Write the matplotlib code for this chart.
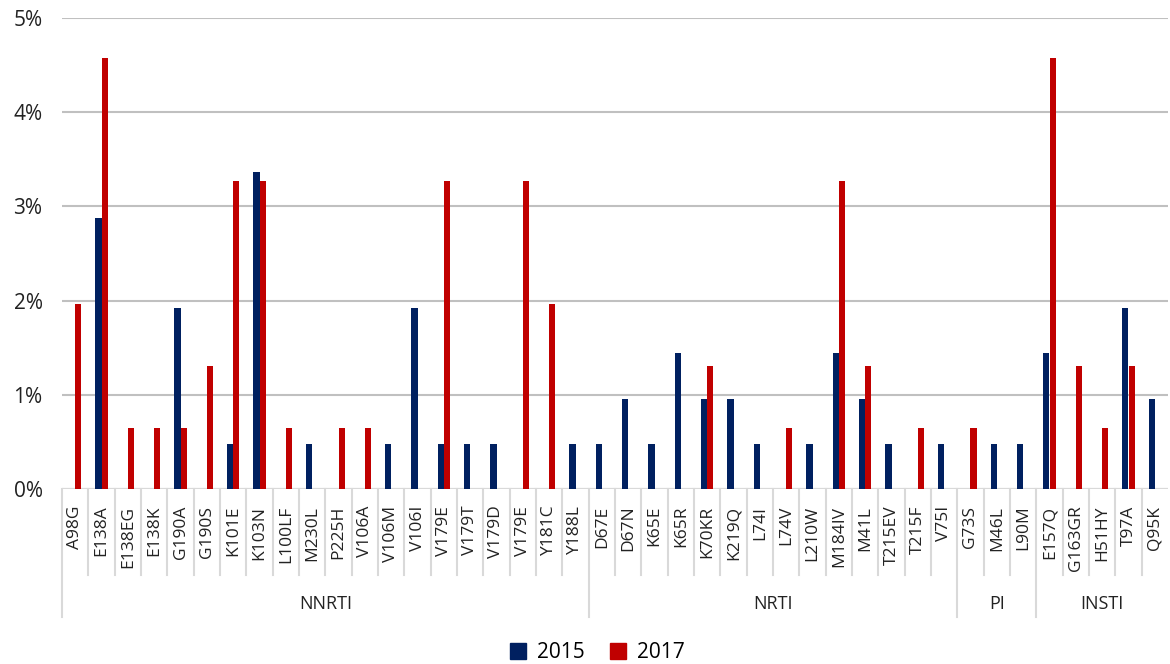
import matplotlib.pyplot as plt
import matplotlib.transforms as mtransforms
from matplotlib.patches import Patch
import numpy as np

plt.rcParams['font.family'] = ['Open Sans', 'DejaVu Sans']

# mutation labels, grouped by drug class
mutations = ["A98G", "E138A", "E138EG", "E138K", "G190A", "G190S", "K101E", "K103N",
             "L100LF", "M230L", "P225H", "V106A", "V106M", "V106I", "V179E", "V179T",
             "V179D", "V179E", "Y181C", "Y188L",
             "D67E", "D67N", "K65E", "K65R", "K70KR", "K219Q", "L74I", "L74V", "L210W",
             "M184IV", "M41L", "T215EV", "T215F", "V75I",
             "G73S", "M46L", "L90M",
             "E157Q", "G163GR", "H51HY", "T97A", "Q95K"]
groups = ["NNRTI", "NRTI", "PI", "INSTI"]
group_sizes = [20, 14, 3, 5]

# prevalence in percent
y2015 = [0, 2.88, 0, 0, 1.92, 0, 0.48, 3.37, 0, 0.48, 0, 0, 0.48, 1.92, 0.48, 0.48,
         0.48, 0, 0, 0.48,
         0.48, 0.96, 0.48, 1.44, 0.96, 0.96, 0.48, 0, 0.48, 1.44, 0.96, 0.48, 0, 0.48,
         0, 0.48, 0.48,
         1.44, 0, 0, 1.92, 0.96]
y2017 = [1.96, 4.58, 0.65, 0.65, 0.65, 1.31, 3.27, 3.27, 0.65, 0, 0.65, 0.65, 0, 0,
         3.27, 0, 0, 3.27, 1.96, 0,
         0, 0, 0, 0, 1.31, 0, 0, 0.65, 0, 3.27, 1.31, 0, 0.65, 0,
         0.65, 0, 0,
         4.58, 1.31, 0.65, 1.31, 0]

navy = "#002060"
red = "#C00000"

fig = plt.figure(figsize=(11.7, 6.64), dpi=100)
W, H = 1170, 664
ax = fig.add_axes([62 / W, (H - 489) / H, (1168 - 62) / W, (489 - 18) / H])

x = np.arange(len(mutations))
bw = 0.23
ax.bar(x - bw / 2, y2015, width=bw, color=navy, label="2015", zorder=3)
ax.bar(x + bw / 2, y2017, width=bw, color=red, label="2017", zorder=3)

ax.set_xlim(-0.5, len(mutations) - 0.5)
ax.set_ylim(0, 5)
ax.set_yticks(range(6))
ax.set_yticklabels([f"{i}%" for i in range(6)])
ax.grid(axis="y", color="#C0C0C0", linewidth=1.5, zorder=0)
for s in ax.spines.values():
    s.set_visible(False)
ax.axhline(0, color="#D9D9D9", linewidth=1.5, zorder=2)
ax.tick_params(axis="y", length=0, pad=14, labelsize=15, labelcolor="#222222")

ax.set_xticks(x)
ax.set_xticklabels(mutations, rotation=90, fontsize=12.5, color="#222222")
ax.tick_params(axis="x", length=0, pad=12)

# category and group separators below the axis
trans = mtransforms.blended_transform_factory(ax.transData, ax.transAxes)
ax_h = 489 - 18
cat_bottom = -(575 - 489) / ax_h
grp_bottom = -(617 - 489) / ax_h
bounds = np.cumsum([0] + group_sizes) - 0.5
for i in range(len(mutations)):
    xb = i - 0.5
    yb = grp_bottom if xb in bounds else cat_bottom
    ax.plot([xb, xb], [0, yb], color="#D9D9D9", linewidth=1.5,
            transform=trans, clip_on=False)
for g, a, b in zip(groups, bounds[:-1], bounds[1:]):
    ax.text((a + b) / 2, -(604 - 489) / ax_h, g, transform=trans,
            ha="center", va="center", fontsize=13, color="#222222")

handles = [Patch(color=navy, label="2015"), Patch(color=red, label="2017")]
fig.legend(handles=handles, loc="center", bbox_to_anchor=(597 / W, 1 - 653 / H),
           ncol=2, frameon=False, fontsize=15, handlelength=0.8, handleheight=0.8,
           columnspacing=1.2, handletextpad=0.5)

fig.savefig("out.png", dpi=100)
